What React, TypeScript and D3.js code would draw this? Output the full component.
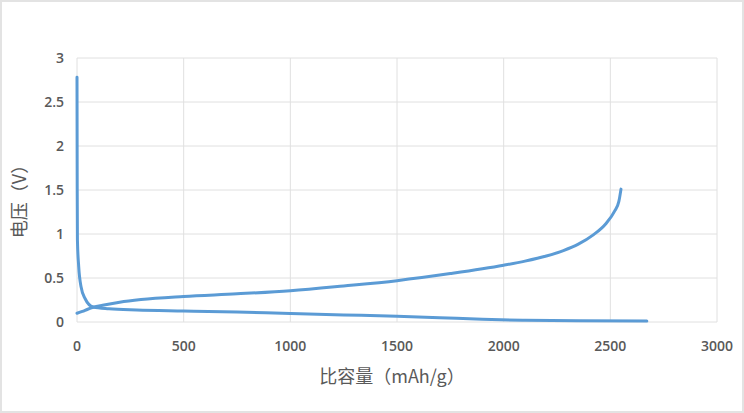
import { useEffect, useRef } from 'react'
import * as d3 from 'd3'

// charge curve (rising), capacity mAh/g -> voltage V
const chargeCapacity = [0, 25, 50, 77, 120, 200, 300, 500, 750, 1000, 1250, 1500, 1750, 2000, 2100, 2200, 2280, 2350, 2420, 2480, 2520, 2540, 2550]
const chargeVoltage = [0.1, 0.12, 0.145, 0.167, 0.19, 0.225, 0.255, 0.29, 0.32, 0.356, 0.41, 0.47, 0.55, 0.645, 0.692, 0.75, 0.812, 0.885, 0.99, 1.12, 1.26, 1.37, 1.51]

// discharge curve (falling)
const dischargeCapacity = [0, 1, 2, 8, 19, 37, 76, 150, 280, 500, 750, 1000, 1250, 1500, 1700, 1900, 2100, 2350, 2671]
const dischargeVoltage = [2.78, 1.5, 0.93, 0.63, 0.4, 0.27, 0.17, 0.15, 0.136, 0.125, 0.113, 0.096, 0.08, 0.066, 0.049, 0.03, 0.02, 0.013, 0.01]

const xTicks = [0, 500, 1000, 1500, 2000, 2500, 3000]
const yTicks = [0, 0.5, 1, 1.5, 2, 2.5, 3]

const xTitle = '比容量（mAh/g）'
const yTitle = '电压（V）'

export default function App() {
  const svgRef = useRef<SVGSVGElement>(null)

  useEffect(() => {
    if (!svgRef.current) return
    const svg = d3.select(svgRef.current)
    svg.selectAll('*').remove()

    const W = 744
    const H = 413
    const margin = { top: 58, right: 27, bottom: 91, left: 77 }
    const width = W - margin.left - margin.right
    const height = H - margin.top - margin.bottom

    svg.append('rect')
      .attr('x', 1).attr('y', 1)
      .attr('width', W - 2).attr('height', H - 2)
      .attr('fill', '#fff')
      .attr('stroke', '#e3e3e3')
      .attr('stroke-width', 2)

    const g = svg.append('g').attr('transform', `translate(${margin.left},${margin.top})`)

    const x = d3.scaleLinear().domain([0, 3000]).range([0, width])
    const y = d3.scaleLinear().domain([0, 3]).range([height, 0])

    const tickFont = '"Open Sans", "DejaVu Sans", sans-serif'
    const titleFont = '"Noto Sans CJK SC", "Noto Sans", sans-serif'

    // grid
    g.append('g')
      .selectAll('line')
      .data(xTicks)
      .join('line')
      .attr('x1', d => x(d)).attr('x2', d => x(d))
      .attr('y1', 0).attr('y2', height)
      .attr('stroke', '#e0e0e0')
      .attr('stroke-width', 1)

    g.append('g')
      .selectAll('line')
      .data(yTicks)
      .join('line')
      .attr('x1', 0).attr('x2', width)
      .attr('y1', d => y(d)).attr('y2', d => y(d))
      .attr('stroke', '#e0e0e0')
      .attr('stroke-width', 1)

    // tick labels
    g.append('g')
      .selectAll('text')
      .data(xTicks)
      .join('text')
      .attr('x', d => x(d))
      .attr('y', height + 24)
      .attr('dy', '0.35em')
      .attr('text-anchor', 'middle')
      .attr('fill', '#595959')
      .style('font-family', tickFont)
      .style('font-size', '14px')
      .style('font-weight', '600')
      .text(d => String(d))

    g.append('g')
      .selectAll('text')
      .data(yTicks)
      .join('text')
      .attr('x', -13)
      .attr('y', d => y(d))
      .attr('dy', '0.35em')
      .attr('text-anchor', 'end')
      .attr('fill', '#595959')
      .style('font-family', tickFont)
      .style('font-size', '14px')
      .style('font-weight', '600')
      .text(d => String(d))

    const line = d3.line<[number, number]>()
      .x(d => x(d[0]))
      .y(d => y(d[1]))
      .curve(d3.curveMonotoneX)

    const chargeData = chargeCapacity.map((c, i) => [c, chargeVoltage[i]] as [number, number])
    const dischargeData = dischargeCapacity.map((c, i) => [c, dischargeVoltage[i]] as [number, number])

    for (const data of [dischargeData, chargeData]) {
      g.append('path')
        .datum(data)
        .attr('fill', 'none')
        .attr('stroke', '#5b9bd5')
        .attr('stroke-width', 3)
        .attr('stroke-linecap', 'round')
        .attr('stroke-linejoin', 'round')
        .attr('d', line)
    }

    // axis titles
    g.append('text')
      .attr('x', width / 2 - 5)
      .attr('y', height + 55)
      .attr('dy', '0.35em')
      .attr('text-anchor', 'middle')
      .attr('fill', '#595959')
      .style('font-family', titleFont)
      .style('font-size', '18px')
      .text(xTitle)

    g.append('text')
      .attr('transform', 'rotate(-90)')
      .attr('x', -(197 - margin.top))
      .attr('y', 20 - margin.left)
      .attr('dy', '0.35em')
      .attr('text-anchor', 'middle')
      .attr('fill', '#595959')
      .style('font-family', titleFont)
      .style('font-size', '18px')
      .text(yTitle)
  }, [])

  return (
    <div>
      <style>{'body{margin:0}'}</style>
      <svg ref={svgRef} width={744} height={413} style={{ display: 'block' }}></svg>
    </div>
  )
}
